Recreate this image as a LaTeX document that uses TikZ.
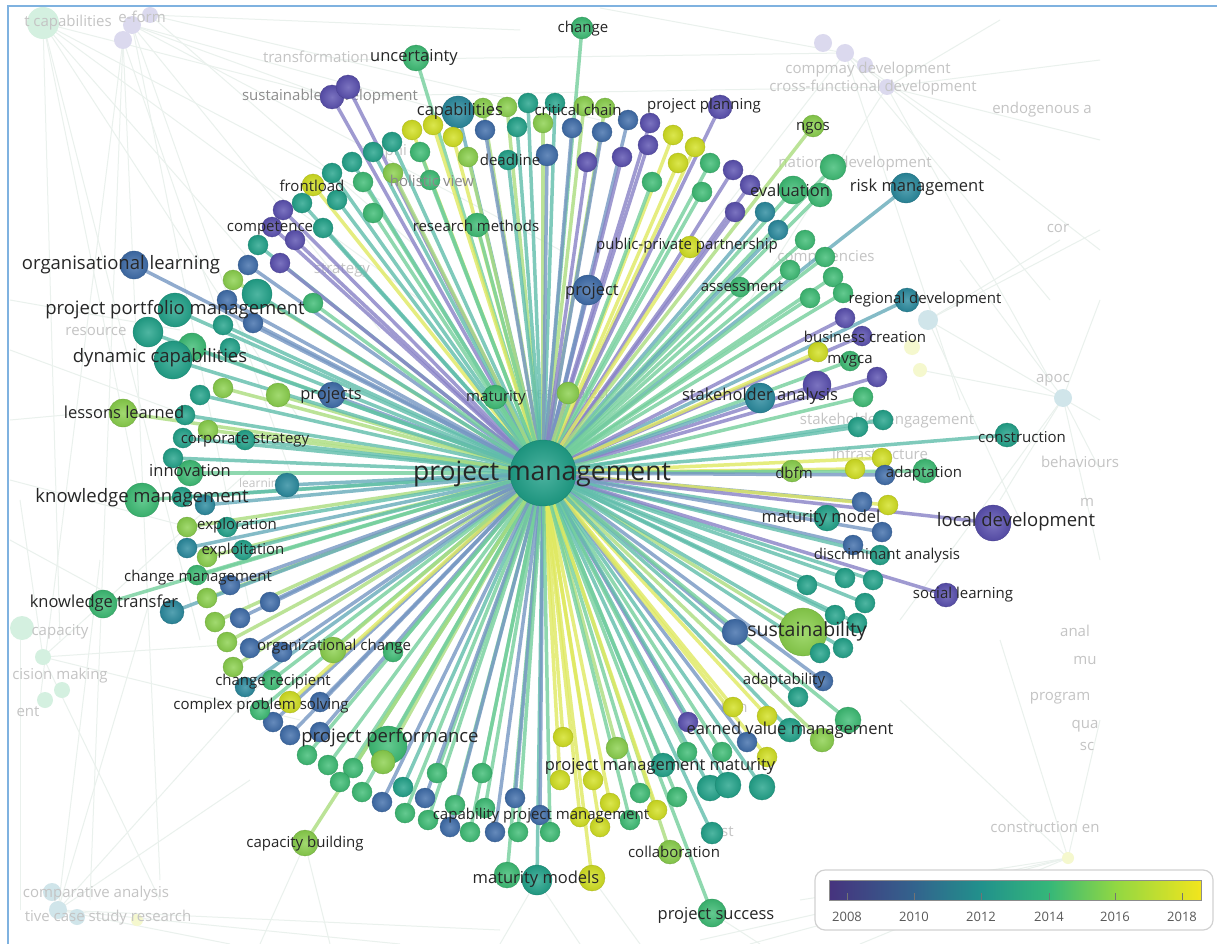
\documentclass[tikz,border=0pt]{standalone}
\usepackage{fontspec}
\setmainfont{Open Sans}
\definecolor{P}{HTML}{5A50B0}
\definecolor{B}{HTML}{3F6DAA}
\definecolor{T}{HTML}{2A8A9E}
\definecolor{Q}{HTML}{22A38A}
\definecolor{G}{HTML}{3DBC74}
\definecolor{L}{HTML}{8AD04C}
\definecolor{Y}{HTML}{D2E021}
\definecolor{C}{HTML}{1FA088}
\definecolor{txt}{HTML}{262626}
\definecolor{txg}{HTML}{8A8A8A}
\definecolor{fad}{HTML}{C4C4C4}
\definecolor{fln}{HTML}{EAF1ED}
\definecolor{bordc}{HTML}{7FB2E0}
\definecolor{v0}{HTML}{46337E}
\definecolor{v1}{HTML}{33638D}
\definecolor{v2}{HTML}{21918C}
\definecolor{v3}{HTML}{35B779}
\definecolor{v4}{HTML}{90D743}
\definecolor{v5}{HTML}{F2E51D}
\pgfdeclarelayer{back}
\pgfdeclarelayer{fade}
\pgfdeclarelayer{bg}
\pgfsetlayers{back,fade,bg,main}
\tikzset{
  ball/.style={circle, draw=#1!80!black, line width=0.3pt, inner color=#1!80!white, outer color=#1!92!black, inner sep=0pt, outer sep=0pt},
  fball/.style={circle, fill=#1!22!white, inner sep=0pt, outer sep=0pt},
  edge/.style={draw=#1!72!white, line width=3.5pt, opacity=0.8},
  faint/.style={draw=fln, line width=1pt},
  ls/.style={font=\fontsize{15}{16}\selectfont, text=txt, inner sep=0pt},
  lm/.style={font=\fontsize{16.5}{18}\selectfont, text=txt, inner sep=0pt},
  ll/.style={font=\fontsize{18.5}{20}\selectfont, text=txt, inner sep=0pt},
  lx/.style={font=\fontsize{19.5}{21}\selectfont, text=txt, inner sep=0pt},
  lc/.style={font=\fontsize{26.5}{28}\selectfont, text=txt, inner sep=0pt},
  lg/.style={font=\fontsize{15}{16}\selectfont, text=txg, inner sep=0pt},
  lf/.style={font=\fontsize{15}{16}\selectfont, text=fad, inner sep=0pt},
  yearlab/.style={font=\fontsize{13}{14}\selectfont, text=black!65, inner sep=0pt},
}
\def\nodelist{582/28/11/G, 416/58/13/G, 332/97/12/P, 348/87/12/P, 458/112/16/T,
412/130/10/Y, 433/125/10/Y, 453/137/10/Y, 483/108/10/L, 507/107/10/L, 528/103/10/Q,
555/103/10/Q, 584/106/10/L, 605/108/10/L, 485/130/10/B, 517/127/10/Q, 543/123/10/L,
572/128/10/B, 602/132/10/B, 628/120/10/B, 650/123/10/P, 648/145/10/P, 673/135/10/Y,
695/147/10/Y, 720/107/12/P, 420/152/10/G, 468/157/10/L, 508/160/10/Q, 547/155/11/B,
587/162/10/P, 622/157/10/P, 678/163/10/Y, 710/163/10/G, 652/182/10/G, 702/192/10/G,
733/170/10/P, 750/185/10/P, 735/212/10/P, 765/212/10/T, 793/190/14/G, 813/126/11/L,
833/167/13/G, 820/195/12/G, 778/230/10/T, 805/240/10/G, 430/180/10/G, 477/225/12/G,
392/142/10/Q, 373/152/10/Q, 352/162/10/Q, 332/173/10/Q, 363/182/10/G, 393/173/10/L,
313/185/11/Y, 302/203/10/Q, 337/200/10/Q, 283/210/10/P, 272/227/10/P, 295/240/10/P,
323/228/10/Q, 258/245/10/Q, 373/213/10/G, 248/265/10/B, 280/263/10/P, 233/280/10/L,
227/300/10/B, 257/294/15/Q, 313/303/10/G, 223/325/10/Q, 253/323/10/B,
906/188/15/T, 690/247/11/Y, 740/287/10/G, 588/290/15/B, 825/257/10/G, 790/270/10/G,
833/277/10/G, 810/298/10/G, 843/293/10/G, 907/300/12/T, 845/318/10/P, 862/336/10/P,
818/352/10/Y, 850/361/10/G, 877/377/10/P, 817/385/14/P, 760/398/15/T, 863/397/10/G,
858/427/10/Q, 883/420/10/Q, 1007/435/12/Q, 882/458/10/Y, 855/469/10/Y, 792/471/11/L,
925/471/12/G, 885/475/10/B, 862/502/10/B, 888/505/10/Y, 827/518/13/Q, 882/532/10/B,
853/545/10/B, 880/555/10/Q, 993/523/18/P, 807/585/10/Q, 845/578/10/Q, 873/580/10/Q,
865/603/10/Q, 946/595/12/P, 835/615/10/Q, 857/623/10/Q, 803/632/24/L, 735/632/13/B,
820/653/10/Q, 843/648/10/Q, 823/681/10/B, 798/697/10/Q, 733/707/10/Y, 767/716/10/Y,
848/720/13/G, 822/740/12/L, 790/730/12/Q, 747/742/10/B, 767/757/10/Y, 688/722/10/P,
722/752/10/G, 710/788/13/Q, 728/785/13/Q, 762/787/13/Q, 663/765/12/Q, 677/797/10/G,
687/752/10/G, 712/833/11/Q, 670/852/12/L, 712/913/14/G, 563/737/10/Y, 617/748/11/L,
560/780/10/Y, 593/780/10/Y, 610/803/10/Y, 580/817/10/Y, 600/827/10/Y, 640/793/10/G,
657/810/10/Y, 630/820/10/G, 592/878/13/Y, 537/880/15/Q, 507/875/13/G, 437/773/10/G,
482/773/10/G, 403/787/10/Q, 425/798/10/B, 455/805/10/G, 485/808/10/G, 515/798/10/B,
405/813/10/G, 428/820/10/G, 450/827/10/B, 470/832/10/G, 495/832/10/B, 518/832/10/G,
540/815/10/B, 550/832/10/G, 388/745/19/G, 383/762/12/L, 362/792/10/G, 382/802/10/B,
353/768/10/G, 340/782/10/G, 328/765/10/G, 307/755/10/G, 290/735/10/B, 320/732/10/B,
273/722/10/B, 260/710/10/G, 290/702/11/Y, 245/687/10/T, 272/680/10/G, 233/667/10/L,
320/702/10/B, 227/642/10/L, 250/648/10/B, 282/652/10/B, 333/650/13/L, 393/652/10/G,
215/622/10/L, 240/618/10/B, 207/598/10/L, 270/602/10/B, 103/604/14/G, 172/612/12/T,
197/575/10/G, 230/585/10/B, 187/527/10/L, 227/527/10/Q, 187/548/10/T, 207/557/10/L,
243/550/10/Q, 142/500/17/G, 182/497/10/Q, 205/505/10/T, 190/473/13/G, 287/485/12/T,
173/458/10/Q, 183/438/10/Q, 208/430/10/L, 245/440/10/Q, 185/415/10/Q, 123/413/14/L,
223/388/10/L, 200/395/10/Q, 278/395/12/L, 332/395/13/B, 495/397/12/G, 568/393/11/L,
192/347/14/G, 173/360/19/Q, 230/348/10/Q, 148/332/15/Q, 175/310/17/Q, 134/265/14/B,
305/843/13/L}
\def\labellist{583/29/ls/change, 414/57/lm/uncertainty, 460/111/lm/capabilities,
578/110/ls/critical chain, 704/106/ls/project planning, 813/128/ls/ngos,
510/160/ls/deadline, 432/181/lg/holistic view, 312/186/ls/frontload,
790/190/lm/evaluation, 917/187/lm/risk management, 270/228/ls/competence,
476/226/ls/research methods, 687/246/ls/public-private partnership,
742/287/ls/assessment, 592/291/lm/project, 121/265/ll/organisational learning,
175/310/ll/project portfolio management, 925/300/ls/regional development,
865/337/ls/business creation, 160/358/ll/dynamic capabilities, 850/361/ls/mvgca,
124/412/lm/lessons learned, 331/395/lm/projects, 496/398/ls/maturity,
760/396/lm/stakeholder analysis, 1022/437/ls/construction,
245/440/ls/corporate strategy, 190/471/lm/innovation, 542/474/lc/project management,
794/473/ls/dbfm, 924/474/ls/adaptation, 142/498/ll/knowledge management,
1016/522/ll/local development, 821/518/lm/maturity model, 237/526/ls/exploration,
243/551/ls/exploitation, 887/556/ls/discriminant analysis,
198/578/ls/change management, 963/595/ls/social learning,
104/603/lm/knowledge transfer, 807/631/lx/sustainability,
334/647/ls/organizational change, 784/681/ls/adaptability,
273/682/ls/change recipient, 261/706/ls/complex problem solving,
790/730/lm/earned value management, 390/738/ll/project performance,
660/766/lm/project management maturity, 541/816/ls/capability project management,
305/844/ls/capacity building, 674/852/ls/collaboration, 536/879/lm/maturity models,
716/915/lm/project success}
\def\fadelist{316/57/transformation, 68/23/t capabilities,
142/17/e-form, 868/70/compmay development, 873/88/cross-functional development,
1042/110/endogenous a, 385/152/delphi, 855/164/national development,
826/258/competencies, 1058/228/cor, 342/270/strategy, 96/331/resource,
566/395/megaproject, 1053/380/apoc, 887/421/stakeholder engagement,
880/454/infrastructure, 1080/462/behaviours, 1087/502/m,
60/632/capacity, 1075/631/anal, 1085/660/mu, 60/676/cision making,
1060/698/program, 734/707/bim, 28/712/ent, 1085/726/qua, 1087/746/sc,
717/832/trust, 1045/827/construction en, 96/894/comparative analysis,
108/918/tive case study research}
\def\faintlist{43/23/332/97, 43/23/250/260, 43/23/140/500, 43/23/60/640, 43/23/300/420,
43/23/420/300, 43/23/380/200, 43/23/200/640, 132/25/450/112, 132/25/380/330,
132/25/250/610, 132/25/560/250, 132/25/330/97, 132/25/300/500, 123/40/220/320,
123/40/90/900, 123/40/160/880, 123/40/40/700, 150/15/600/120, 150/15/520/30,
150/15/420/250, 845/53/1100/250, 845/53/960/400, 845/53/600/8, 845/53/700/240,
845/53/1000/160, 845/53/340/60, 845/53/1050/300, 887/87/1100/140, 887/87/1050/380,
887/87/750/300, 887/87/300/97, 887/87/1100/60, 887/87/1000/20, 1063/398/1100/300,
1063/398/1000/500, 1063/398/920/370, 1063/398/1100/470, 1063/398/900/620,
1063/398/1100/560, 1063/398/960/260, 928/320/1100/230, 928/320/1060/240,
928/320/1100/420, 928/320/1020/520, 1068/858/700/940, 1068/858/800/900,
1068/858/900/700, 1068/858/1100/720, 1068/858/1000/640, 1068/858/750/944,
1068/858/860/944, 58/910/300/640, 58/910/250/780, 58/910/400/944, 20/910/20/640,
58/910/150/600, 58/910/500/930, 58/910/230/944, 58/910/100/560, 43/657/250/470,
43/657/300/640, 43/657/20/500, 43/657/160/900, 43/657/300/720, 10/350/200/420,
10/480/200/530, 10/540/120/600, 10/300/180/330, 10/420/120/410, 537/880/500/944,
537/880/580/944, 712/913/760/944, 305/844/330/944, 305/844/260/944, 592/878/640/944}
\begin{document}
\begin{tikzpicture}[x=1pt,y=-1pt]
\useasboundingbox (0,0) rectangle (1217,944);
\begin{pgfonlayer}{back}
\fill[white] (0,0) rectangle (1217,944);
\end{pgfonlayer}
% faded background
\begin{pgfonlayer}{fade}
\foreach \a/\b/\c/\d in \faintlist { \draw[faint] (\a,\b) -- (\c,\d); }
\foreach \x/\y/\r/\c [count=\i] in {43/23/16/G, 132/25/9/P, 150/15/8/P, 123/40/9/P,
  823/43/9/P, 845/53/9/P, 865/65/8/P, 887/87/8/P, 928/320/10/T, 912/347/8/Y,
  920/370/7/Y, 1063/398/9/T, 52/892/9/T, 58/910/9/T, 77/917/8/T, 137/920/6/Y,
  22/628/12/G, 43/657/8/G, 62/690/8/G, 45/700/8/G, 1068/858/6/Y}
  { \node[fball=\c, minimum size=2*\r] (f\i) at (\x,\y) {}; }
\foreach \x/\y/\t [count=\i] in \fadelist { \node[lf] (fl\i) at (\x,\y) {\t}; }
\node[lf, text=black!45] (sd) at (330,97) {sustainable development};
\node[lf, font=\fontsize{12}{13}\selectfont] (lrn) at (262,484) {learning};
\end{pgfonlayer}
% centre node
\node[ball=C, minimum size=66] (pm) at (543,473) {};
% ring nodes
\foreach \x/\y/\r/\c [count=\i] in \nodelist
  { \node[ball=\c, minimum size=2*\r] (n\i) at (\x,\y) {}; }
% connectors
\begin{pgfonlayer}{bg}
\foreach \x/\y/\r/\c [count=\i] in \nodelist
  { \draw[edge=\c] (pm.center) -- (n\i.center); }
\end{pgfonlayer}
% labels
\foreach \x/\y/\s/\t [count=\i] in \labellist { \node[\s] (l\i) at (\x,\y) {\t}; }
% colour bar
\draw[rounded corners=10pt, draw=black!18, fill=white, line width=1.2pt] (815,870) rectangle (1213,930);
\shade[left color=v0, right color=v1] (829,880) rectangle (914,900);
\shade[left color=v1, right color=v2] (913.5,880) rectangle (981,900);
\shade[left color=v2, right color=v3] (980.5,880) rectangle (1049,900);
\shade[left color=v3, right color=v4] (1048.5,880) rectangle (1115,900);
\shade[left color=v4, right color=v5] (1114.5,880) rectangle (1201,900);
\node[draw=black!45, line width=0.5pt, minimum width=372, minimum height=20, inner sep=0pt] (cbar) at (1015,890) {};
\foreach \xx/\yr in {847/2008, 914/2010, 981/2012, 1049/2014, 1115/2016, 1182/2018}
  { \draw[black!55, line width=0.8pt] (\xx,893) -- (\xx,900);
    \node[yearlab] (y\yr) at (\xx,917) {\yr}; }
% frame
\draw[bordc, line width=1.6pt] (8,944) -- (8,6) -- (1217,6);
\end{tikzpicture}
\end{document}
